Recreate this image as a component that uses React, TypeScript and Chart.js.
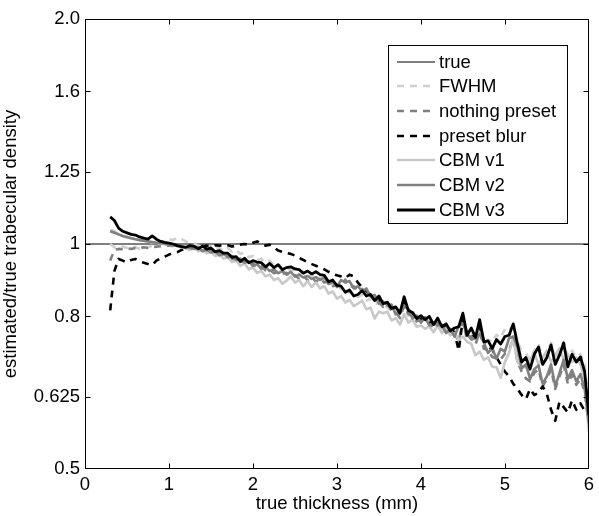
import React, { useEffect, useRef } from "react";
import { Chart, registerables } from "chart.js";

Chart.register(...registerables);

// x grid (true thickness, mm): 0.30 .. 6.00 step 0.05
const XS: number[] = Array.from({ length: 115 }, (_, i) => Math.round((0.3 + 0.05 * i) * 100) / 100);

const TRUE_X = [0, 6];
const TRUE_Y = [1, 1];

const FWHM = [
  1.000, 0.990, 0.985, 0.992, 0.988, 0.995, 0.990, 0.985, 0.992, 0.990,
  0.995, 1.000, 1.005, 1.010, 1.015, 1.012, 1.020, 1.015, 1.008, 1.005,
  1.002, 0.994, 0.998, 0.988, 0.993, 0.984, 0.988, 0.978, 0.988, 0.976,
  0.982, 0.970, 0.974, 0.960, 0.964, 0.950, 0.956, 0.944, 0.950, 0.936,
  0.940, 0.926, 0.932, 0.920, 0.925, 0.910, 0.916, 0.904, 0.910, 0.896,
  0.902, 0.890, 0.894, 0.880, 0.885, 0.870, 0.875, 0.860, 0.862, 0.850,
  0.855, 0.840, 0.845, 0.830, 0.835, 0.820, 0.825, 0.810, 0.815, 0.800,
  0.825, 0.802, 0.805, 0.790, 0.795, 0.786, 0.790, 0.775, 0.790, 0.770,
  0.776, 0.762, 0.768, 0.770, 0.798, 0.752, 0.765, 0.746, 0.774, 0.736,
  0.745, 0.738, 0.756, 0.748, 0.770, 0.765, 0.780, 0.740, 0.720, 0.714,
  0.700, 0.720, 0.735, 0.705, 0.715, 0.738, 0.700, 0.720, 0.740, 0.705,
  0.720, 0.705, 0.712, 0.690, 0.610,
];

const NOTHING_PRESET = [
  0.950, 0.982, 0.985, 0.984, 0.987, 0.985, 0.988, 0.986, 0.990, 0.988,
  0.990, 0.992, 0.993, 0.994, 0.995, 0.994, 0.992, 0.990, 0.988, 0.986,
  0.988, 0.982, 0.983, 0.978, 0.978, 0.970, 0.972, 0.962, 0.965, 0.954,
  0.958, 0.946, 0.950, 0.940, 0.942, 0.930, 0.935, 0.922, 0.925, 0.914,
  0.918, 0.912, 0.915, 0.906, 0.909, 0.898, 0.908, 0.894, 0.903, 0.890,
  0.900, 0.888, 0.891, 0.878, 0.882, 0.880, 0.896, 0.876, 0.878, 0.862,
  0.871, 0.856, 0.855, 0.840, 0.838, 0.824, 0.833, 0.814, 0.811, 0.796,
  0.828, 0.806, 0.801, 0.788, 0.791, 0.786, 0.783, 0.771, 0.785, 0.766,
  0.768, 0.756, 0.758, 0.741, 0.788, 0.744, 0.753, 0.734, 0.763, 0.724,
  0.721, 0.706, 0.703, 0.701, 0.713, 0.721, 0.748, 0.696, 0.675, 0.661,
  0.655, 0.672, 0.680, 0.645, 0.660, 0.680, 0.640, 0.665, 0.690, 0.650,
  0.668, 0.648, 0.660, 0.635, 0.570,
];

const PRESET_BLUR = [
  0.815, 0.920, 0.955, 0.950, 0.945, 0.952, 0.955, 0.948, 0.944, 0.940,
  0.937, 0.950, 0.957, 0.962, 0.968, 0.972, 0.975, 0.982, 0.985, 0.988,
  0.990, 0.988, 0.992, 0.995, 0.993, 0.996, 0.995, 0.998, 0.996, 0.992,
  0.995, 0.998, 1.000, 0.998, 1.004, 1.008, 1.000, 0.995, 0.998, 0.990,
  0.980, 0.976, 0.973, 0.970, 0.965, 0.958, 0.952, 0.945, 0.940, 0.935,
  0.930, 0.925, 0.918, 0.912, 0.908, 0.905, 0.900, 0.910, 0.905, 0.888,
  0.875, 0.865, 0.855, 0.848, 0.842, 0.835, 0.830, 0.822, 0.815, 0.808,
  0.840, 0.818, 0.805, 0.798, 0.792, 0.795, 0.785, 0.782, 0.788, 0.778,
  0.772, 0.768, 0.762, 0.720, 0.795, 0.758, 0.760, 0.750, 0.775, 0.742,
  0.728, 0.722, 0.705, 0.690, 0.675, 0.665, 0.650, 0.640, 0.628, 0.620,
  0.640, 0.628, 0.632, 0.645, 0.630, 0.600, 0.580, 0.615, 0.605, 0.595,
  0.618, 0.600, 0.612, 0.598, 0.590,
];

const CBM_V1 = [
  1.045, 1.040, 1.030, 1.025, 1.020, 1.018, 1.015, 1.012, 1.010, 1.008,
  1.005, 1.004, 1.002, 1.000, 0.998, 0.996, 0.993, 0.990, 0.986, 0.982,
  0.988, 0.978, 0.982, 0.972, 0.976, 0.964, 0.968, 0.956, 0.960, 0.946,
  0.950, 0.935, 0.942, 0.925, 0.930, 0.915, 0.920, 0.905, 0.910, 0.895,
  0.900, 0.885, 0.893, 0.905, 0.888, 0.895, 0.878, 0.892, 0.876, 0.888,
  0.872, 0.878, 0.858, 0.864, 0.845, 0.852, 0.835, 0.842, 0.826, 0.832,
  0.840, 0.818, 0.822, 0.795, 0.812, 0.808, 0.812, 0.790, 0.796, 0.780,
  0.806, 0.785, 0.792, 0.775, 0.778, 0.770, 0.776, 0.762, 0.778, 0.760,
  0.772, 0.755, 0.760, 0.745, 0.752, 0.740, 0.735, 0.710, 0.718, 0.700,
  0.705, 0.685, 0.684, 0.662, 0.695, 0.715, 0.750, 0.695, 0.685, 0.684,
  0.700, 0.715, 0.690, 0.705, 0.720, 0.695, 0.710, 0.725, 0.700, 0.712,
  0.695, 0.705, 0.690, 0.660, 0.560,
];

const CBM_V2 = [
  1.040, 1.035, 1.030, 1.025, 1.022, 1.018, 1.015, 1.012, 1.010, 1.008,
  1.006, 1.004, 1.003, 1.000, 0.998, 0.996, 0.994, 0.992, 0.990, 0.988,
  0.985, 0.990, 0.978, 0.984, 0.974, 0.978, 0.966, 0.972, 0.960, 0.964,
  0.952, 0.956, 0.944, 0.949, 0.935, 0.940, 0.926, 0.932, 0.920, 0.925,
  0.914, 0.920, 0.910, 0.918, 0.904, 0.910, 0.902, 0.906, 0.898, 0.903,
  0.895, 0.902, 0.884, 0.890, 0.876, 0.895, 0.888, 0.892, 0.872, 0.878,
  0.864, 0.872, 0.850, 0.855, 0.832, 0.838, 0.828, 0.830, 0.805, 0.812,
  0.825, 0.818, 0.795, 0.802, 0.785, 0.798, 0.778, 0.786, 0.778, 0.780,
  0.760, 0.770, 0.752, 0.776, 0.782, 0.758, 0.745, 0.748, 0.758, 0.738,
  0.715, 0.725, 0.702, 0.724, 0.718, 0.748, 0.752, 0.728, 0.682, 0.690,
  0.660, 0.680, 0.688, 0.650, 0.665, 0.690, 0.645, 0.672, 0.700, 0.660,
  0.678, 0.655, 0.670, 0.640, 0.575,
];

const CBM_V3 = [
  1.087, 1.075, 1.050, 1.040, 1.035, 1.030, 1.028, 1.022, 1.018, 1.015,
  1.025, 1.015, 1.008, 1.005, 1.003, 1.000, 0.995, 0.992, 0.990, 0.995,
  0.993, 0.985, 0.994, 0.984, 0.988, 0.976, 0.980, 0.972, 0.972, 0.960,
  0.962, 0.948, 0.957, 0.944, 0.950, 0.946, 0.944, 0.932, 0.942, 0.930,
  0.938, 0.924, 0.930, 0.932, 0.926, 0.924, 0.914, 0.920, 0.912, 0.918,
  0.910, 0.908, 0.890, 0.895, 0.880, 0.878, 0.862, 0.868, 0.852, 0.856,
  0.866, 0.852, 0.856, 0.840, 0.852, 0.832, 0.836, 0.820, 0.824, 0.808,
  0.850, 0.815, 0.810, 0.795, 0.802, 0.792, 0.800, 0.780, 0.796, 0.775,
  0.782, 0.765, 0.772, 0.775, 0.808, 0.755, 0.772, 0.750, 0.792, 0.740,
  0.742, 0.725, 0.745, 0.735, 0.752, 0.755, 0.782, 0.735, 0.695, 0.705,
  0.680, 0.712, 0.728, 0.690, 0.705, 0.733, 0.690, 0.710, 0.737, 0.685,
  0.712, 0.695, 0.706, 0.675, 0.590,
];

const X_TICKS = [0, 1, 2, 3, 4, 5, 6];
const X_TICK_LABELS = ["0", "1", "2", "3", "4", "5", "6"];
const Y_TICKS = [0.5, 0.625, 0.8, 1, 1.25, 1.6, 2.0];
const Y_TICK_LABELS = ["0.5", "0.625", "0.8", "1", "1.25", "1.6", "2.0"];

const X_TITLE = "true thickness (mm)";
const Y_TITLE = "estimated/true trabecular density";

const FONT = "'Liberation Sans', Arial, Helvetica, sans-serif";
const FS = 18.5;

type S = { label: string; color: string; width: number; dash: number[]; xs: number[]; ys: number[] };

const SERIES: S[] = [
  { label: "true", color: "#000000", width: 1, dash: [], xs: TRUE_X, ys: TRUE_Y },
  { label: "FWHM", color: "#cfcfcf", width: 2.6, dash: [7, 6], xs: XS, ys: FWHM },
  { label: "nothing preset", color: "#808080", width: 2.6, dash: [7, 6], xs: XS, ys: NOTHING_PRESET },
  { label: "preset blur", color: "#000000", width: 2.6, dash: [7, 6], xs: XS, ys: PRESET_BLUR },
  { label: "CBM v1", color: "#c8c8c8", width: 2.6, dash: [], xs: XS, ys: CBM_V1 },
  { label: "CBM v2", color: "#808080", width: 2.6, dash: [], xs: XS, ys: CBM_V2 },
  { label: "CBM v3", color: "#000000", width: 2.8, dash: [], xs: XS, ys: CBM_V3 },
];

const framePlugin = {
  id: "matlabFrame",
  afterDatasetsDraw(chart: any) {
    const ctx = chart.ctx as CanvasRenderingContext2D;
    const { left, right, top, bottom } = chart.chartArea;
    const xs = chart.scales.x;
    const ys = chart.scales.y;
    ctx.save();
    ctx.strokeStyle = "#000";
    ctx.lineWidth = 1;
    ctx.setLineDash([]);
    const L = Math.round(left) + 0.5, R = Math.round(right) - 0.5;
    const T = Math.round(top) + 0.5, B = Math.round(bottom) - 0.5;
    ctx.strokeRect(L, T, R - L, B - T);
    const tl = 5;
    ctx.beginPath();
    X_TICKS.slice(1, -1).forEach((v) => {
      const px = Math.round(xs.getPixelForValue(v)) + 0.5;
      ctx.moveTo(px, B); ctx.lineTo(px, B - tl);
      ctx.moveTo(px, T); ctx.lineTo(px, T + tl);
    });
    Y_TICKS.slice(1, -1).forEach((v) => {
      const py = Math.round(ys.getPixelForValue(v)) + 0.5;
      ctx.moveTo(L, py); ctx.lineTo(L + tl, py);
      ctx.moveTo(R, py); ctx.lineTo(R - tl, py);
    });
    ctx.stroke();

    // legend box
    const bx = 388.5, by = 45.5, bw = 179, bh = 178;
    ctx.fillStyle = "#fff";
    ctx.fillRect(bx, by, bw, bh);
    ctx.strokeRect(bx, by, bw, bh);
    ctx.font = `${FS}px ${FONT}`;
    ctx.textBaseline = "middle";
    ctx.textAlign = "left";
    SERIES.forEach((s, i) => {
      const cy = Math.round(61.5 + i * 24.7);
      ctx.strokeStyle = i === 0 ? "#555" : s.color;
      ctx.lineWidth = i === 0 ? 1.4 : s.width;
      ctx.setLineDash(s.dash);
      ctx.beginPath();
      ctx.moveTo(397, cy);
      ctx.lineTo(435, cy);
      ctx.stroke();
      ctx.setLineDash([]);
      ctx.fillStyle = "#000";
      ctx.fillText(s.label, 439, cy + 1);
    });
    ctx.restore();
  },
};

export default function App() {
  const ref = useRef<HTMLCanvasElement | null>(null);
  useEffect(() => {
    if (!ref.current) return;
    const datasets = SERIES.map((s, i) => ({
      label: s.label,
      data: s.xs.map((x, k) => ({ x, y: s.ys[k] })),
      borderColor: s.color,
      backgroundColor: s.color,
      borderWidth: s.width,
      borderDash: s.dash,
      borderJoinStyle: "round" as const,
      pointRadius: 0,
      tension: 0,
      fill: false,
      order: SERIES.length - i,
    }));
    const chart = new Chart(ref.current, {
      type: "line",
      data: { datasets },
      options: {
        animation: false,
        responsive: false,
        layout: { padding: { left: 0, right: 9, top: 19, bottom: 0 } },
        plugins: { legend: { display: false }, tooltip: { enabled: false } },
        scales: {
          x: {
            type: "linear",
            min: 0,
            max: 6,
            afterBuildTicks: (sc: any) => { sc.ticks = X_TICKS.map((v) => ({ value: v })); },
            afterFit: (sc: any) => { sc.height = 47; },
            grid: { display: false, drawTicks: false },
            border: { display: false },
            ticks: {
              color: "#000",
              padding: 5,
              maxRotation: 0,
              autoSkip: false,
              font: { family: FONT, size: FS },
              callback: (v: any) => X_TICK_LABELS[X_TICKS.indexOf(Number(v))] ?? "",
            },
            title: { display: true, text: X_TITLE, color: "#000", font: { family: FONT, size: FS }, padding: { top: 0, bottom: 1 } },
          },
          y: {
            type: "logarithmic",
            min: 0.5,
            max: 2,
            afterBuildTicks: (sc: any) => { sc.ticks = Y_TICKS.map((v) => ({ value: v })); },
            afterFit: (sc: any) => { sc.width = 85; },
            grid: { display: false, drawTicks: false },
            border: { display: false },
            ticks: {
              color: "#000",
              padding: 5,
              autoSkip: false,
              font: { family: FONT, size: FS },
              callback: (v: any) => {
                const idx = Y_TICKS.findIndex((t) => Math.abs(t - Number(v)) < 1e-6);
                return idx >= 0 ? Y_TICK_LABELS[idx] : "";
              },
            },
            title: { display: true, text: Y_TITLE, color: "#000", font: { family: FONT, size: FS }, padding: { top: 0, bottom: 0 } },
          },
        },
      },
      plugins: [framePlugin],
    });
    return () => chart.destroy();
  }, []);
  return (
    <div style={{ position: "fixed", left: 0, top: 0, width: 599, height: 516, background: "#fff" }}>
      <canvas ref={ref} width={599} height={516} style={{ display: "block" }} />
    </div>
  );
}
